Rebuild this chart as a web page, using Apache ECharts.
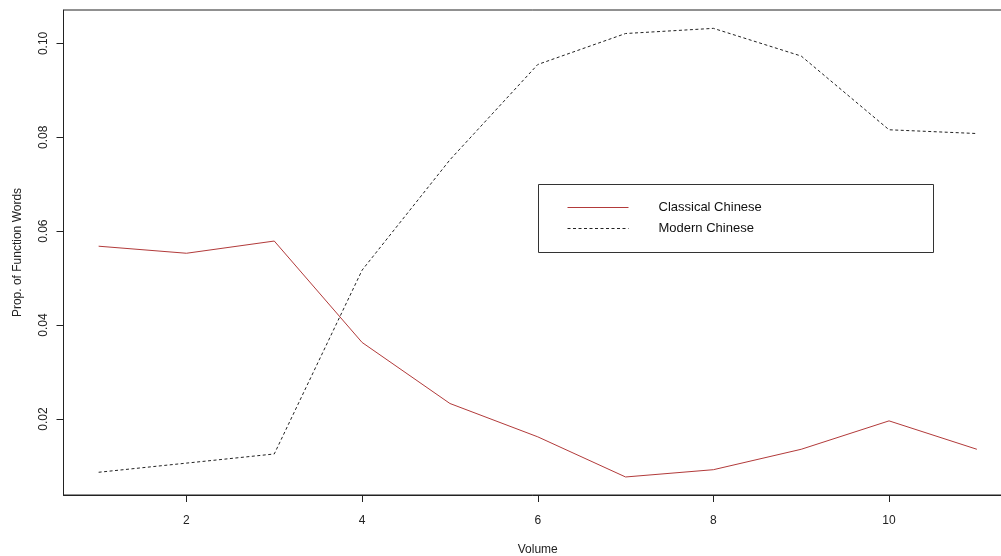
<!DOCTYPE html>
<html><head><meta charset="utf-8">
<script src="https://cdn.jsdelivr.net/npm/echarts@6/dist/echarts.min.js"></script>
<style>html,body{margin:0;padding:0;background:#fff}#c{width:1001px;height:556px}</style>
</head><body><div id="c"></div>
<script>
const volumes = [1, 2, 3, 4, 5, 6, 7, 8, 9, 10, 11];
const classical = [0.0568, 0.0553, 0.0579, 0.0363, 0.0233, 0.0162, 0.00765, 0.0092, 0.01355, 0.0196, 0.01355];
const modern = [0.00865, 0.0106, 0.01255, 0.0517, 0.0752, 0.0955, 0.1021, 0.1032, 0.0973, 0.0816, 0.0808];
const xTicks = [2, 4, 6, 8, 10];
const yTicks = [0.02, 0.04, 0.06, 0.08, 0.10];
const seriesNames = ['Classical Chinese', 'Modern Chinese'];

const FONT = 'Liberation Sans, Arial, sans-serif';
const chart = echarts.init(document.getElementById('c'), null, {renderer: 'canvas'});
chart.setOption({
  animation: false,
  backgroundColor: '#fff',
  grid: {left: 63.5, top: 10, bottom: 61, right: -11, outerBoundsMode: 'none', containLabel: false,
         show: true, borderColor: '#222', borderWidth: 1, backgroundColor: 'transparent'},
  xAxis: {
    type: 'value', min: 0.6, max: 11.4,
    name: 'Volume', nameLocation: 'middle', nameGap: 49,
    nameTextStyle: {fontFamily: FONT, fontSize: 12, color: '#222'},
    axisLine: {show: true, lineStyle: {color: '#222', width: 1}},
    axisTick: {show: true, length: 7, customValues: xTicks, lineStyle: {color: '#222'}},
    axisLabel: {customValues: xTicks, margin: 20, fontFamily: FONT, fontSize: 12, color: '#222'},
    splitLine: {show: false}
  },
  yAxis: {
    type: 'value', min: 0.00381, max: 0.10711,
    name: 'Prop. of Function Words', nameLocation: 'middle', nameGap: 40, nameRotate: 90,
    nameTextStyle: {fontFamily: FONT, fontSize: 12, color: '#222'},
    axisLine: {show: true, lineStyle: {color: '#222', width: 1}},
    axisTick: {show: true, length: 7, customValues: yTicks, lineStyle: {color: '#222'}},
    axisLabel: {customValues: yTicks, rotate: 90, margin: 14, fontFamily: FONT, fontSize: 12, color: '#222',
      formatter: v => v.toFixed(2)},
    splitLine: {show: false}
  },
  legend: {
    data: seriesNames, orient: 'vertical', left: 567, top: 201,
    itemWidth: 61, itemHeight: 14, itemGap: 8, padding: 0,
    itemStyle: {opacity: 0},
    lineStyle: {width: 1},
    textStyle: {fontFamily: FONT, fontSize: 13, color: '#111', padding: [0, 0, 0, 25]}
  },
  graphic: [{
    type: 'rect', z: 10,
    shape: {x: 538.5, y: 184.5, width: 395, height: 68},
    style: {fill: 'none', stroke: '#333', lineWidth: 1}
  }],
  series: [
    {name: seriesNames[0], type: 'line', symbol: 'none', showSymbol: false,
     data: volumes.map((v, i) => [v, classical[i]]),
     lineStyle: {color: '#b23a3a', width: 1}, itemStyle: {color: '#b23a3a'}},
    {name: seriesNames[1], type: 'line', symbol: 'none', showSymbol: false,
     data: volumes.map((v, i) => [v, modern[i]]),
     lineStyle: {color: '#222', width: 1, type: [3, 2.5]}, itemStyle: {color: '#222'}}
  ]
});
</script></body></html>
